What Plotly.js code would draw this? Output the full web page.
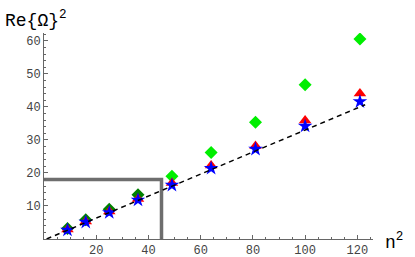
<!DOCTYPE html>
<html><head><meta charset="utf-8">
<script src="https://cdn.plot.ly/plotly-3.0.1.min.js"></script>
<style>html,body{margin:0;padding:0;background:#fff}#c{width:415px;height:257px}</style>
</head><body><div id="c"></div>
<script>
const nSqSmall = [9, 16, 25, 36];
const nSqLarge = [49, 64, 81, 100, 121];
const nSqAll = [9, 16, 25, 36, 49, 64, 81, 100, 121];
const greenSmall = [3.2, 5.8, 9.0, 13.4];
const greenLarge = [19.0, 26.2, 35.4, 46.7, 60.6];
const redVals = [2.9, 5.3, 8.3, 12.1, 17.0, 22.3, 28.2, 35.9, 44.1];
const blueVals = [2.7, 5.1, 8.0, 11.8, 16.3, 21.4, 27.2, 34.2, 41.6];
const fitX = [1, 123];
const fitY = [0, 40.67];
const boxX = [0, 45, 45];
const boxY = [18, 18, 0];
const xTicks = [20, 40, 60, 80, 100, 120];
const yTicks = [10, 20, 30, 40, 50, 60];

const font = 'Liberation Mono, Courier New, monospace';
const traces = [
  {x: boxX, y: boxY, mode: 'lines', line: {color: '#6e6e6e', width: 3.5}, hoverinfo: 'skip'},
  {x: nSqSmall, y: greenSmall, mode: 'markers', marker: {symbol: 'diamond', size: 10, color: '#008000'}},
  {x: nSqLarge, y: greenLarge, mode: 'markers', marker: {symbol: 'diamond', size: 10, color: '#00ee00'}},
  {x: nSqAll, y: redVals, mode: 'markers', marker: {symbol: 'triangle-up', size: 11, color: '#ff0000'}},
  {x: nSqAll, y: blueVals, mode: 'markers', marker: {symbol: 'star', size: 11, color: '#0000ff'}},
  {x: fitX, y: fitY, mode: 'lines', line: {color: '#000', width: 1.5, dash: '5px,4px'}}
];
const layout = {
  width: 415, height: 257, showlegend: false,
  paper_bgcolor: '#fff', plot_bgcolor: '#fff',
  margin: {l: 44, r: 42, t: 33, b: 18},
  font: {family: font, size: 12, color: '#444'},
  xaxis: {range: [0, 126], showgrid: false, zeroline: false, showline: true, linecolor: '#666', linewidth: 1,
    tickvals: xTicks, ticks: 'inside', ticklen: 4, tickcolor: '#666', tickfont: {family: font, size: 12, color: '#444'},
    minor: {dtick: 5, ticks: 'inside', ticklen: 2, tickcolor: '#666', showgrid: false}},
  yaxis: {range: [0, 62.4], showgrid: false, zeroline: false, showline: true, linecolor: '#666', linewidth: 1,
    tickvals: yTicks, ticks: 'inside', ticklen: 4, tickcolor: '#666', tickfont: {family: font, size: 12, color: '#444'},
    minor: {dtick: 2, ticks: 'inside', ticklen: 2, tickcolor: '#666', showgrid: false}},
  annotations: [
    {xref: 'paper', yref: 'paper', x: -0.125, y: 1.065, xanchor: 'left', yanchor: 'middle', showarrow: false,
     text: 'Re{Ω}<sup>2</sup>', font: {family: font, size: 18, color: '#000'}},
    {xref: 'paper', yref: 'paper', x: 1.03, y: -0.01, xanchor: 'left', yanchor: 'middle', showarrow: false,
     text: 'n<sup>2</sup>', font: {family: font, size: 18, color: '#000'}}
  ]
};
Plotly.newPlot('c', traces, layout, {displayModeBar: false, staticPlot: true});
</script></body></html>
